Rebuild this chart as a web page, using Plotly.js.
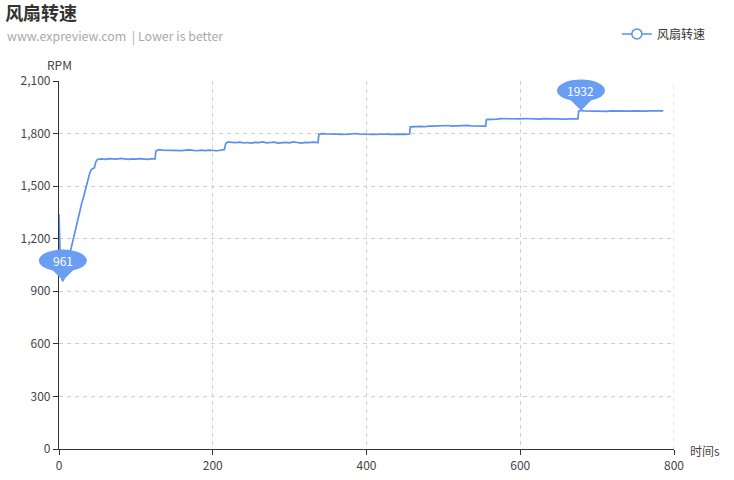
<!DOCTYPE html>
<html>
<head>
<meta charset="utf-8">
<script src="https://cdn.plot.ly/plotly-3.0.1.min.js"></script>
<style>html,body{margin:0;padding:0;background:#fff;}#chart{width:734px;height:480px;}</style>
</head>
<body>
<div id="chart"></div>
<script>
// ---- data ----
const seriesName = '风扇转速';
const timeS = [0,1,2,4,5,6,8,10,12,14,16,18,20,22,24,26,28,30,32,34,36,38,40,42,44,46,48,50,
  55,60,65,70,75,80,85,90,95,100,105,110,115,120,125,
  126,130,135,140,145,150,155,160,165,170,175,180,185,190,195,200,205,210,215,
  217,220,225,230,235,240,245,250,255,260,265,270,275,280,285,290,295,300,305,310,315,320,325,330,337,
  338,342,347,352,357,362,367,372,377,382,387,392,397,402,407,412,417,422,427,432,437,442,447,452,456,
  457,461,466,471,476,481,486,491,496,501,506,511,516,521,526,531,536,541,546,551,555,
  556,560,565,570,575,580,585,590,595,600,605,610,615,620,625,630,635,640,645,650,655,660,665,670,675,
  676,679,683,688,693,698,703,708,713,718,723,728,733,738,743,748,753,758,763,768,773,778,783,786];
const rpm = [1340,1150,1020,965,961,968,1010,1050,1085,1118,1150,1190,1225,1262,1300,1340,1378,1410,1440,1478,1505,1540,1575,1595,1598,1605,1640,1652,
  1655,1653,1657,1656,1654,1658,1655,1653,1656,1654,1657,1655,1653,1656,1655,
  1700,1708,1706,1705,1708,1704,1706,1703,1705,1707,1704,1702,1705,1703,1706,1704,1702,1705,1708,
  1745,1752,1750,1748,1751,1747,1749,1746,1750,1748,1752,1747,1749,1751,1746,1748,1750,1747,1752,1749,1746,1750,1748,1751,1748,
  1795,1800,1798,1799,1796,1797,1795,1794,1797,1799,1800,1796,1795,1798,1797,1795,1796,1798,1797,1795,1796,1798,1797,1795,1797,
  1838,1840,1842,1841,1839,1843,1842,1844,1842,1845,1846,1843,1844,1846,1845,1847,1844,1843,1845,1842,1843,
  1880,1882,1884,1883,1885,1884,1886,1885,1883,1884,1886,1885,1883,1884,1882,1885,1884,1883,1885,1882,1881,1883,1884,1882,1884,
  1928,1932,1930,1929,1931,1928,1930,1929,1927,1929,1928,1930,1927,1929,1928,1930,1929,1927,1928,1930,1928,1929,1930,1929];
const xTicks = [0,200,400,600,800];
const yTicks = [0,300,600,900,1200,1500,1800,2100];
const yTickText = ['0','300','600','900','1,200','1,500','1,800','2,100'];
const titleText = '风扇转速';
const subtitleText = 'www.expreview.com &nbsp;| Lower is better';
const yName = 'RPM';
const xName = '时间s';

// ---- styles ----
const lineColor = '#5b8ff0';
const pinColor = '#6a9ef2';
const gridColor = '#d0d0d0';
const font = '"Noto Sans CJK SC", "Noto Sans", sans-serif';
const xRange = [0, 800];
const yRange = [0, 2100];

// min / max points for pins
let iMax = 0, iMin = 0;
rpm.forEach((v, i) => { if (v > rpm[iMax]) iMax = i; if (v < rpm[iMin]) iMin = i; });
const pins = [iMin, iMax];

const shapes = [];
const annotations = [];

// dashed grid line at the last x tick (right edge of the plot)
shapes.push({type:'line', xref:'x', yref:'paper', x0: xTicks[xTicks.length-1], x1: xTicks[xTicks.length-1],
  y0:0, y1:1, line:{color:gridColor, width:1, dash:'4px,4px'}, layer:'below'});

pins.forEach(i => {
  // paper-anchored (so the pin is not clipped by the plot area), position from the axis range
  const px = (timeS[i] - xRange[0]) / (xRange[1] - xRange[0]);
  const py = (rpm[i] - yRange[0]) / (yRange[1] - yRange[0]);
  shapes.push({type:'circle', xref:'paper', yref:'paper', xsizemode:'pixel', ysizemode:'pixel',
    xanchor: px, yanchor: py, x0:-24, x1:24, y0:9, y1:31,
    fillcolor:pinColor, line:{width:0}, layer:'above'});
  shapes.push({type:'path', xref:'paper', yref:'paper', xsizemode:'pixel', ysizemode:'pixel',
    xanchor: px, yanchor: py, path:'M -13 13 L 0 0 L 13 13 Z',
    fillcolor:pinColor, line:{width:0}, layer:'above'});
  annotations.push({x: timeS[i], y: rpm[i], xref:'x', yref:'y', text: String(rpm[i]),
    showarrow:false, yshift:20, font:{color:'#fff', size:12, family:font}});
});

annotations.push({xref:'paper', yref:'paper', x:-0.0878, y:1.122, xanchor:'left', yanchor:'middle',
  text: subtitleText, showarrow:false, font:{size:12.4, color:'#aaa', family:font}});
annotations.push({xref:'paper', yref:'paper', x:0, y:1.046, xanchor:'center', yanchor:'middle',
  text: yName, showarrow:false, font:{size:12, color:'#444', family:font}});
annotations.push({xref:'paper', yref:'paper', x:1.0228, y:-0.003, xanchor:'left', yanchor:'middle',
  text: xName, showarrow:false, font:{size:12, color:'#444', family:font}});

const traces = [
  {x: timeS, y: rpm, type:'scatter', mode:'lines', name: seriesName, showlegend:false,
   line:{color:lineColor, width:1.7}, hoverinfo:'x+y'},
  {x:[null], y:[null], type:'scatter', mode:'lines+markers', name: seriesName,
   line:{color:lineColor, width:1.5},
   marker:{symbol:'circle', size:10, color:'#fff', line:{color:lineColor, width:1.5}}}
];

const layout = {
  width:734, height:480,
  margin:{l:59, r:60, t:81, b:31},
  paper_bgcolor:'#fff', plot_bgcolor:'#fff',
  font:{family:font, size:12, color:'#444'},
  title:{text:titleText, xref:'container', yref:'container', x:0.007, xanchor:'left', y:0.971, yanchor:'middle',
    font:{size:18, color:'#333', family:font, weight:'bold'}},
  showlegend:true,
  legend:{x:1.06, xanchor:'right', y:1.128, yanchor:'middle', orientation:'h',
    font:{size:12, color:'#333', family:font}, bgcolor:'rgba(0,0,0,0)'},
  xaxis:{range:xRange, tickvals:xTicks, ticktext:xTicks.map(String), showgrid:true,
    gridcolor:gridColor, griddash:'4px,4px', gridwidth:1, zeroline:false,
    showline:true, linecolor:'#333', linewidth:1.2, ticks:'outside', ticklen:5, tickcolor:'#333',
    tickfont:{size:12, color:'#444'}, fixedrange:true},
  yaxis:{range:yRange, tickvals:yTicks, ticktext:yTickText, showgrid:true,
    gridcolor:gridColor, griddash:'4px,4px', gridwidth:1, zeroline:false,
    showline:true, linecolor:'#333', linewidth:1.2, ticks:'outside', ticklen:5, tickcolor:'#333',
    tickfont:{size:12, color:'#444'}, fixedrange:true},
  shapes: shapes,
  annotations: annotations
};

Plotly.newPlot('chart', traces, layout, {displayModeBar:false});
</script>
</body>
</html>
